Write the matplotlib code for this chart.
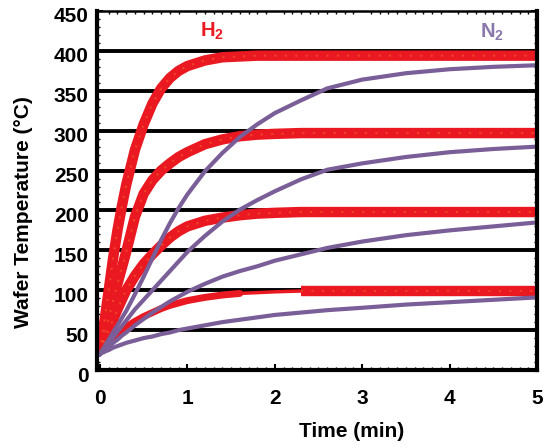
import matplotlib
matplotlib.use("Agg")
import matplotlib.pyplot as plt
import matplotlib.transforms as mtransforms
from matplotlib.ticker import MultipleLocator

plt.rcParams['font.family'] = ['Liberation Sans', 'DejaVu Sans']
plt.rcParams['mathtext.fontset'] = 'custom'
plt.rcParams['mathtext.rm'] = 'Liberation Sans:bold'
plt.rcParams['mathtext.bf'] = 'Liberation Sans:bold'

# ---- data ----
time_min = [0, 0.05, 0.1, 0.15, 0.2, 0.25, 0.3, 0.4, 0.5, 0.6, 0.7, 0.8, 0.9, 1.0,
            1.2, 1.4, 1.6, 1.8, 2.0, 2.3, 2.6, 3.0, 3.5, 4.0, 4.5, 5.0]

h2_400 = [22, 60, 100, 140, 175, 205, 232, 276, 308, 334, 353, 366, 375, 381,
          388, 392, 393, 394, 394, 394, 394, 394, 394, 394, 394, 394]
h2_300 = [22, 44, 65, 87, 108, 128, 148, 192, 221, 238, 250, 259, 267, 273,
          283, 289, 293, 295, 296, 297, 297, 297, 297, 297, 297, 297]
h2_200 = [22, 36, 50, 63, 76, 88, 100, 118, 133, 145, 156, 166, 174, 180,
          187, 191, 194, 196, 197, 198, 198, 198, 198, 198, 198, 198]
h2_100 = [22, 29, 36, 41, 46, 50, 54, 61, 67, 72, 77, 81, 84, 87,
          91, 94, 96, 97, 98, 99, 99, 99, 99, 99, 99, 99]

n2_400 = [20, 29, 38, 47, 56, 65, 74, 95, 117, 140, 163, 184, 203, 220,
          249, 272, 292, 308, 322, 338, 353, 364, 372, 377, 380, 382]
n2_300 = [20, 27, 34, 41, 48, 55, 62, 76, 88, 100, 112, 124, 136, 148,
          168, 186, 201, 213, 224, 239, 251, 259, 267, 273, 277, 280]
n2_200 = [20, 25, 29, 34, 38, 43, 47, 56, 64, 72, 79, 86, 92, 98,
          108, 117, 124, 130, 137, 145, 153, 161, 169, 175, 180, 185]
n2_100 = [20, 23, 25, 28, 30, 32, 34, 37, 40, 42, 45, 47, 50, 52,
          56, 60, 63, 66, 69, 72, 75, 78, 82, 85, 88, 91]

grid_levels = [50, 100, 150, 200, 250, 300, 350, 400]
x_ticks = [0, 1, 2, 3, 4, 5]
y_ticks = [0, 50, 100, 150, 200, 250, 300, 350, 400, 450]

RED = '#EA1820'
RED2 = '#F47A30'
PURPLE = '#7A5E98'
PURPLE_TXT = '#8A78AC'

fig = plt.figure(figsize=(5.44, 4.48), dpi=100)
ax = fig.add_axes([97 / 544, 78 / 448, 440 / 544, 359 / 448])
ax.set_xlim(-0.034, 5.0)
ax.set_ylim(0, 450)

for g in grid_levels:
    ax.axhline(g, color='black', lw=2.8, zorder=1)

# H2 curves (thick red)
for series in (h2_400, h2_300, h2_200):
    ax.plot(time_min, series, color=RED, lw=7.5, solid_capstyle='butt',
            solid_joinstyle='round', zorder=3)
    ax.plot(time_min, series, color=RED2, lw=1.5, ls=(0, (1, 4)), alpha=0.45, zorder=3.1)

# H2 100 curve: moderate, then thin, then thick
i16 = time_min.index(1.6)
i23 = time_min.index(2.3)
ax.plot(time_min[:i16 + 1], h2_100[:i16 + 1], color=RED, lw=5, solid_capstyle='round', zorder=3)
ax.plot(time_min[i16:i23 + 1], h2_100[i16:i23 + 1], color=RED, lw=2.5, zorder=3)
ax.plot(time_min[i23:], h2_100[i23:], color=RED, lw=7.5, solid_capstyle='butt', zorder=3)
ax.plot(time_min[i23:], h2_100[i23:], color=RED2, lw=1.5, ls=(0, (1, 4)), alpha=0.45, zorder=3.1)

# N2 curves (purple)
for series in (n2_400, n2_300, n2_200, n2_100):
    ax.plot(time_min, series, color=PURPLE, lw=3.0, solid_joinstyle='round', zorder=4)

# labels
ax.text(1.28, 425, r'H$_\mathbf{2}$', color=RED, fontsize=14.5, fontweight='bold',
        ha='center', va='center', zorder=5)
ax.text(4.48, 423, r'N$_\mathbf{2}$', color=PURPLE_TXT, fontsize=14.5, fontweight='bold',
        ha='center', va='center', zorder=5)

# spines
for side in ('left', 'bottom', 'right'):
    ax.spines[side].set_linewidth(3.0)
ax.spines['top'].set_linewidth(1.8)
for s in ax.spines.values():
    s.set_zorder(6)

ax.set_xticks(x_ticks)
ax.set_yticks(y_ticks)
ax.xaxis.set_minor_locator(MultipleLocator(0.1))
ax.yaxis.set_minor_locator(MultipleLocator(10))
ax.tick_params(axis='both', which='major', direction='in', length=4, width=1.5,
               labelsize=15, top=False, right=True)
ax.tick_params(axis='both', which='minor', direction='in', length=2.5, width=1,
               top=True, right=True)
ax.tick_params(axis='x', which='major', pad=14)
ax.tick_params(axis='y', which='major', pad=6)
for lab in ax.get_xticklabels() + ax.get_yticklabels():
    lab.set_fontweight('bold')
offset = mtransforms.ScaledTranslation(0, -4 / 100, fig.dpi_scale_trans)
for lab in ax.get_yticklabels():
    lab.set_transform(lab.get_transform() + offset)

ax.set_xlabel('Time (min)', fontsize=15, fontweight='bold')
ax.xaxis.set_label_coords((352 - 97) / 440, -52 / 359)
ax.set_ylabel('Wafer Temperature (°C)', fontsize=15, fontweight='bold')
ax.yaxis.set_label_coords(-64 / 440, (370 - 212) / 359)

fig.savefig('out.png', dpi=100)
